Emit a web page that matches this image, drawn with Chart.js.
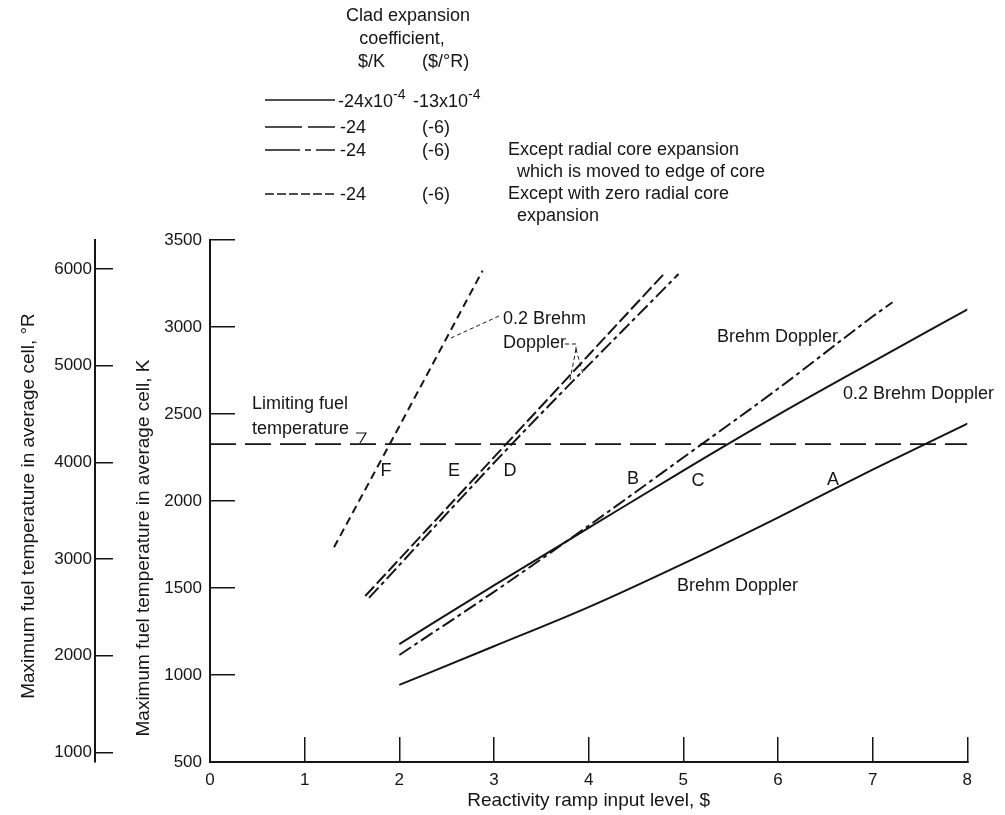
<!DOCTYPE html>
<html><head><meta charset="utf-8">
<script src="https://cdn.jsdelivr.net/npm/chart.js@4.4.0/dist/chart.umd.min.js"></script>
<style>
html,body{margin:0;padding:0;background:#fff;}
#wrap{position:relative;width:1005px;height:815px;font-family:'Liberation Sans',Arial,sans-serif;color:#151515;overflow:hidden;}
#c{position:absolute;left:0;top:0;}
.t{position:absolute;white-space:nowrap;font-size:18px;line-height:1;transform:translateY(-50%);}
.c{transform:translate(-50%,-50%);}
.rot{position:absolute;white-space:nowrap;font-size:19px;line-height:1;transform:translate(-50%,-50%) rotate(-90deg);}
.sup{position:relative;top:-8px;font-size:14px;}
svg{position:absolute;left:0;top:0;}
</style></head>
<body>
<div id="wrap">
<canvas id="c" width="1005" height="815"></canvas>
<svg width="1005" height="815">
  <g stroke="#151515" stroke-width="1.6" fill="none">
    <line x1="265" y1="100" x2="335" y2="100"/>
    <line x1="265" y1="127" x2="335" y2="127" stroke-dasharray="37 6"/>
    <line x1="265" y1="150" x2="335" y2="150" stroke-dasharray="35 5 6 5"/>
    <line x1="265" y1="194" x2="335" y2="194" stroke-dasharray="9 3"/>
  </g>
  <g stroke="#151515" stroke-width="1" fill="none" stroke-dasharray="4 3">
    <line x1="499" y1="316" x2="451" y2="338"/>
    <polyline points="565,344 576,344 576,349"/>
    <line x1="576" y1="349" x2="570" y2="380"/>
    <line x1="576" y1="349" x2="583" y2="374"/>
  </g>
  <g stroke="#151515" stroke-width="1.2" fill="none">
    <polyline points="356,433 366,433 360,443"/>
  </g>
</svg>
<div class="t c" style="left:408px;top:15px">Clad expansion</div>
<div class="t c" style="left:402px;top:38px">coefficient,</div>
<div class="t" style="left:358px;top:61px">$/K</div>
<div class="t" style="left:422px;top:61px">($/°R)</div>
<div class="t" style="left:338px;top:101px">-24x10<span class="sup">-4</span></div>
<div class="t" style="left:413px;top:101px">-13x10<span class="sup">-4</span></div>
<div class="t" style="left:340px;top:127px">-24</div>
<div class="t" style="left:422px;top:127px">(-6)</div>
<div class="t" style="left:340px;top:150px">-24</div>
<div class="t" style="left:422px;top:150px">(-6)</div>
<div class="t" style="left:508px;top:149px">Except radial core expansion</div>
<div class="t" style="left:517px;top:171px">which is moved to edge of core</div>
<div class="t" style="left:340px;top:194px">-24</div>
<div class="t" style="left:422px;top:194px">(-6)</div>
<div class="t" style="left:508px;top:193px">Except with zero radial core</div>
<div class="t" style="left:517px;top:215px">expansion</div>

<div class="rot" style="left:27px;top:506px">Maximum fuel temperature in average cell, °R</div>
<div class="rot" style="left:142px;top:548px">Maximum fuel temperature in average cell, K</div>

<div class="t" style="left:503px;top:318px">0.2 Brehm</div>
<div class="t" style="left:503px;top:342px">Doppler</div>
<div class="t" style="left:252px;top:403px">Limiting fuel</div>
<div class="t" style="left:252px;top:428px">temperature</div>
<div class="t" style="left:717px;top:336px">Brehm Doppler</div>
<div class="t" style="left:843px;top:393px">0.2 Brehm Doppler</div>
<div class="t" style="left:677px;top:585px">Brehm Doppler</div>
<div class="t c" style="left:386px;top:470px">F</div>
<div class="t c" style="left:454px;top:470px">E</div>
<div class="t c" style="left:510px;top:470px">D</div>
<div class="t c" style="left:633px;top:478px">B</div>
<div class="t c" style="left:698px;top:480px">C</div>
<div class="t c" style="left:833px;top:479px">A</div>
</div>
<script>
// Tick values
const xTicks = [0, 1, 2, 3, 4, 5, 6, 7, 8];
const kTicks = [500, 1000, 1500, 2000, 2500, 3000, 3500];
const rTicks = [1000, 2000, 3000, 4000, 5000, 6000];

// Curve A: clad -13e-4 $/°R, Brehm Doppler (solid)
const xA = [2, 3, 4, 5, 6, 7, 8.02];
const yA = [943, 1165, 1390, 1640, 1905, 2180, 2450];
// Curve C: clad -13e-4 $/°R, 0.2 Brehm Doppler (solid)
const xC = [2, 3, 4, 5, 6, 7, 8.02];
const yC = [1178, 1515, 1845, 2175, 2495, 2800, 3107];
// Curve B: Brehm Doppler (dash-dot)
const xB = [2, 3, 4, 5, 6, 7, 7.21];
const yB = [1115, 1478, 1858, 2250, 2645, 3060, 3142];
// Curve E: 0.2 Brehm Doppler (long dash)
const xE = [1.64, 3.13, 4.81];
const yE = [1454, 2328, 3314];
// Curve D: 0.2 Brehm Doppler, radial expansion at core edge (dash-dot)
const xD = [1.68, 3.19, 4.95];
const yD = [1443, 2328, 3305];
// Curve F: 0.2 Brehm Doppler, zero radial core expansion (short dash)
const xF = [1.31, 1.90, 2.88];
const yF = [1734, 2328, 3324];
// Limiting fuel temperature
const xL = [0, 8];
const yL = [2327, 2327];

const pts = (xs, ys) => xs.map((x, i) => ({x: x, y: ys[i]}));
const INK = '#151515';
function ds(xs, ys, dash, w, tension) {
  return {data: pts(xs, ys), borderColor: INK, borderWidth: w || 2, borderDash: dash || [],
          pointRadius: 0, fill: false, tension: tension || 0, cubicInterpolationMode: 'monotone'};
}
const FONT = "'Liberation Sans', Arial, sans-serif";
const plain = v => String(v);

new Chart(document.getElementById('c'), {
  type: 'line',
  data: {datasets: [
    ds(xL, yL, [26, 9], 1.6),
    ds(xA, yA, [], 2, 0.4),
    ds(xC, yC, [], 2, 0.4),
    ds(xB, yB, [14, 4, 4, 4], 2),
    ds(xE, yE, [13, 4], 2),
    ds(xD, yD, [14, 4, 4, 4], 2),
    ds(xF, yF, [8, 5], 2)
  ]},
  options: {
    responsive: false, animation: false,
    layout: {padding: {top: 240, right: 25, bottom: 0, left: 0}},
    plugins: {legend: {display: false}, tooltip: {enabled: false}},
    scales: {
      x: {
        type: 'linear', min: 0, max: 8, position: 'bottom',
        afterBuildTicks: s => { s.ticks = xTicks.map(v => ({value: v})); },
        afterFit: s => { s.height = 53; },
        grid: {drawOnChartArea: false, drawTicks: true, tickLength: -25, tickColor: INK, lineWidth: 1.5},
        border: {display: true, color: INK, width: 2},
        ticks: {color: INK, padding: 33, font: {family: FONT, size: 17}, maxRotation: 0, callback: plain},
        title: {display: true, text: 'Reactivity ramp input level, $', color: INK,
                font: {family: FONT, size: 19}, padding: {top: 0, bottom: 3}}
      },
      y: {
        type: 'linear', min: 500, max: 3500, position: 'left', weight: 0,
        afterBuildTicks: s => { s.ticks = kTicks.map(v => ({value: v})); },
        afterFit: s => { s.width = 115; },
        grid: {drawOnChartArea: false, drawTicks: true, tickLength: -25, tickColor: INK, lineWidth: 1.5},
        border: {display: true, color: INK, width: 2},
        ticks: {color: INK, padding: 33, font: {family: FONT, size: 17}, callback: plain}
      },
      yR: {
        type: 'linear', min: 900, max: 6300, position: 'left', weight: 1,
        afterBuildTicks: s => { s.ticks = rTicks.map(v => ({value: v})); },
        afterFit: s => { s.width = 95; },
        grid: {drawOnChartArea: false, drawTicks: true, tickLength: -18, tickColor: INK, lineWidth: 1.5},
        border: {display: true, color: INK, width: 2},
        ticks: {color: INK, padding: 21, font: {family: FONT, size: 17}, callback: plain}
      }
    }
  }
});
</script>
</body></html>
